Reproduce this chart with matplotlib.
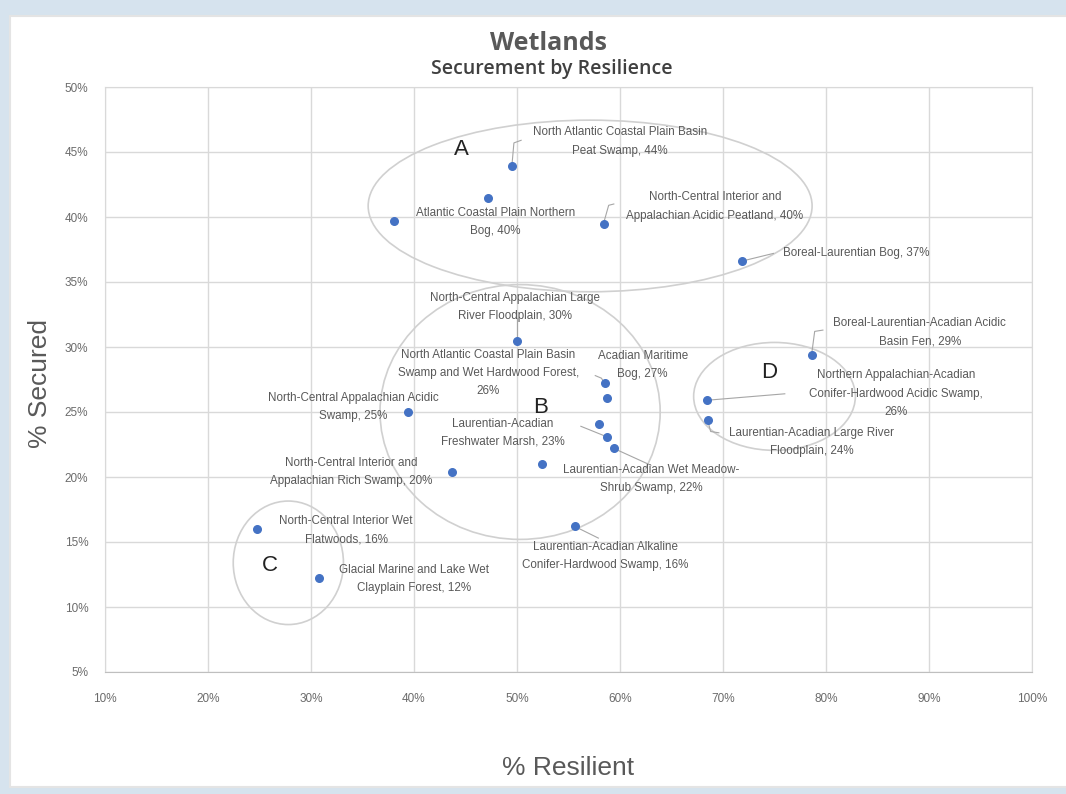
import matplotlib.pyplot as plt
from matplotlib.patches import Ellipse, Rectangle
from matplotlib.ticker import FuncFormatter

# % resilient, % secured for each system
names = [
    'North Atlantic Coastal Plain Basin\nPeat Swamp, 44%',
    '',
    'Atlantic Coastal Plain Northern\nBog, 40%',
    'North-Central Interior and\nAppalachian Acidic Peatland, 40%',
    'Boreal-Laurentian Bog, 37%',
    'North-Central Appalachian Large\nRiver Floodplain, 30%',
    'Acadian Maritime\nBog, 27%',
    'North Atlantic Coastal Plain Basin\nSwamp and Wet Hardwood Forest,\n26%',
    '',
    'Laurentian-Acadian\nFreshwater Marsh, 23%',
    'Laurentian-Acadian Wet Meadow-\nShrub Swamp, 22%',
    '',
    'North-Central Appalachian Acidic\nSwamp, 25%',
    'North-Central Interior and\nAppalachian Rich Swamp, 20%',
    'Boreal-Laurentian-Acadian Acidic\nBasin Fen, 29%',
    'Northern Appalachian-Acadian\nConifer-Hardwood Acidic Swamp,\n26%',
    'Laurentian-Acadian Large River\nFloodplain, 24%',
    'North-Central Interior Wet\nFlatwoods, 16%',
    'Glacial Marine and Lake Wet\nClayplain Forest, 12%',
    'Laurentian-Acadian Alkaline\nConifer-Hardwood Swamp, 16%',
]
resilient = [49.5, 47.2, 38.1, 58.4, 71.8, 50.0, 58.5, 58.7, 58.0, 58.7, 59.4,
             52.4, 39.4, 43.7, 78.6, 68.4, 68.5, 24.8, 30.8, 55.6]
secured = [43.9, 41.5, 39.7, 39.5, 36.6, 30.5, 27.2, 26.1, 24.1, 23.1, 22.2,
           21.0, 25.0, 20.4, 29.4, 25.9, 24.4, 16.0, 12.2, 16.2]

# label centre positions (data units)
label_x = [60.0, 0, 47.9, 69.2, 82.9, 49.8, 62.2, 47.2, 0, 48.6, 63.0,
           0, 34.1, 33.9, 89.1, 86.8, 78.6, 33.4, 40.0, 58.6]
label_y = [45.8, 0, 39.6, 40.8, 37.2, 33.1, 28.6, 28.0, 0, 23.4, 19.85,
           0, 25.4, 20.4, 31.15, 26.4, 22.7, 15.9, 12.15, 13.9]

# leader lines: point index -> path to its label (data units)
leaders = {
    0: [(49.7, 45.7), (50.4, 45.9)],
    3: [(58.9, 40.9), (59.4, 41.0)],
    4: [(74.9, 37.2)],
    5: [(50.0, 32.2)],
    6: [(58.2, 27.6), (57.6, 27.8)],
    9: [(56.2, 23.9)],
    10: [(63.0, 20.9)],
    14: [(78.9, 31.2), (79.7, 31.3)],
    15: [(76.0, 26.4)],
    16: [(68.8, 23.5), (69.6, 23.4)],
    19: [(57.9, 15.3)],
}

group_letters = ['A', 'B', 'C', 'D']
group_x = [44.6, 52.3, 26.0, 74.5]
group_y = [45.2, 25.35, 13.2, 28.0]
group_w = [43.1, 27.2, 10.7, 15.7]
group_h = [13.2, 19.6, 9.5, 8.3]
group_cx = [57.1, 50.3, 27.8, 75.0]
group_cy = [40.85, 25.0, 13.4, 26.2]

plt.rcParams['font.family'] = ['Liberation Sans', 'DejaVu Sans']

fig = plt.figure(figsize=(10.66, 7.94), dpi=100)
fig.patch.set_facecolor('#d6e3ee')
card = Rectangle((10 / 1066, 7 / 794), 1.0, 771 / 794, transform=fig.transFigure,
                 facecolor='white', edgecolor='#e4e4e4', lw=1.5, zorder=-5)
fig.patches.append(card)

ax = fig.add_axes([105 / 1066, 1 - 672 / 794, (1032 - 105) / 1066, (672 - 87) / 794])
ax.set_zorder(2)
ax.patch.set_alpha(0)
ax.set_xlim(10, 100)
ax.set_ylim(5, 50)
ax.set_xticks(range(10, 101, 10))
ax.set_yticks(range(5, 51, 5))
pct = FuncFormatter(lambda v, p: f'{v:.0f}%')
ax.xaxis.set_major_formatter(pct)
ax.yaxis.set_major_formatter(pct)
ax.grid(True, color='#d9d9d9', lw=1)
ax.set_axisbelow(True)
for s in ax.spines.values():
    s.set_color('#d9d9d9')
ax.spines['bottom'].set_color('#bfbfbf')
ax.tick_params(length=0, labelsize=8.5, colors='#6b6b6b')
ax.tick_params(axis='x', pad=15)
ax.tick_params(axis='y', pad=12)

for cx, cy, w, h in zip(group_cx, group_cy, group_w, group_h):
    ax.add_patch(Ellipse((cx, cy), w, h, fill=False, edgecolor='#d0d0d0', lw=1.2, zorder=1))
for lt, gx, gy in zip(group_letters, group_x, group_y):
    ax.text(gx, gy, lt, fontsize=16, color='#222222', ha='center', va='center')

for i, pts in leaders.items():
    xs = [resilient[i]] + [p[0] for p in pts]
    ys = [secured[i]] + [p[1] for p in pts]
    ax.plot(xs, ys, color='#a6a6a6', lw=0.8, zorder=2)

ax.scatter(resilient, secured, s=30, color='#4472c4', zorder=3)

for name, lx, ly in zip(names, label_x, label_y):
    if name:
        ax.text(lx, ly, name, fontsize=8.4, color='#595959', ha='center', va='center',
                linespacing=1.7)

fig.text(548 / 1066, 1 - 44 / 794, 'Wetlands', fontsize=18, fontweight='bold', color='#595959',
         ha='center', va='center', family='Open Sans')
fig.text(552 / 1066, 1 - 69 / 794, 'Securement by Resilience', fontsize=14, fontweight='semibold',
         color='#404040', ha='center', va='center', family='Open Sans')
fig.text(568 / 1066, 1 - 768 / 794, '% Resilient', fontsize=19, color='#595959',
         ha='center', va='center')
fig.text(40 / 1066, 1 - 383 / 794, '% Secured', fontsize=19, color='#595959', rotation=90,
         ha='center', va='center')

fig.savefig('out.png', dpi=100, facecolor=fig.get_facecolor())
